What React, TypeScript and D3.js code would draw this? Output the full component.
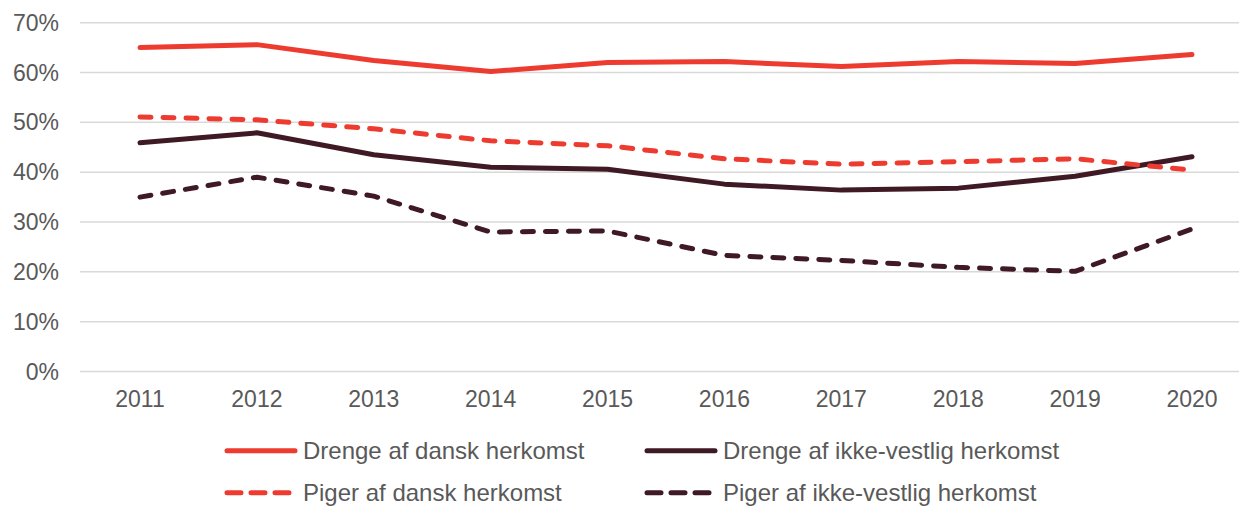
import React from "react";
import * as d3 from "d3";

const years = ["2011", "2012", "2013", "2014", "2015", "2016", "2017", "2018", "2019", "2020"];
const drengeDansk = [65.0, 65.6, 62.4, 60.2, 62.0, 62.2, 61.2, 62.2, 61.8, 63.6];
const pigerDansk = [51.1, 50.5, 48.7, 46.3, 45.3, 42.7, 41.6, 42.1, 42.7, 40.4];
const drengeIkkeVestlig = [45.9, 47.9, 43.5, 41.0, 40.6, 37.6, 36.4, 36.8, 39.2, 43.1];
const pigerIkkeVestlig = [35.0, 39.0, 35.2, 28.0, 28.2, 23.3, 22.3, 20.9, 20.1, 28.6];
const yTicks = [0, 10, 20, 30, 40, 50, 60, 70];

const RED = "#ee3b2f";
const DARK = "#3f1a25";
const TEXT = "#595959";

const series = [
  { name: "Drenge af dansk herkomst", values: drengeDansk, color: RED, dashed: false },
  { name: "Drenge af ikke-vestlig herkomst", values: drengeIkkeVestlig, color: DARK, dashed: false },
  { name: "Piger af dansk herkomst", values: pigerDansk, color: RED, dashed: true },
  { name: "Piger af ikke-vestlig herkomst", values: pigerIkkeVestlig, color: DARK, dashed: true },
];

const width = 1239, height = 506;
const font = "'Liberation Sans', Arial, sans-serif";

export default function App() {
  const x = d3.scalePoint<string>().domain(years).range([140, 1192]);
  const y = d3.scaleLinear().domain([0, 70]).range([371.5, 22.7]);
  const line = d3.line<number>()
    .x((_, i) => x(years[i]) as number)
    .y(d => y(d));

  return (
    <div style={{ position: "absolute", left: 0, top: 0 }}>
      <svg width={width} height={height} style={{ display: "block", fontFamily: font }}>
        <rect width={width} height={height} fill="#fff" />
        {yTicks.map(t => (
          <g key={t}>
            <line x1={80} x2={1256} y1={y(t)} y2={y(t)} stroke="#d9d9d9" strokeWidth={1.5} />
            <text x={59} y={y(t)} dy="0.35em" textAnchor="end" fontSize={23} fill={TEXT}>{t}%</text>
          </g>
        ))}
        {years.map(yr => (
          <text key={yr} x={x(yr)} y={407} textAnchor="middle" fontSize={23} fill={TEXT}>{yr}</text>
        ))}
        {series.map(s => (
          <path key={s.name} d={line(s.values) ?? ""} fill="none" stroke={s.color} strokeWidth={5}
            strokeLinecap="round" strokeLinejoin="round" strokeDasharray={s.dashed ? "11 12" : undefined} />
        ))}
        {series.map((s, i) => {
          const lx = i % 2 === 0 ? 227 : 647;
          const ly = i < 2 ? 450.7 : 492.7;
          return (
            <g key={s.name}>
              <line x1={lx} x2={lx + 68} y1={ly} y2={ly} stroke={s.color} strokeWidth={5}
                strokeLinecap="round" strokeDasharray={s.dashed ? "14 10" : undefined} />
              <text x={lx + 76} y={ly} dy="0.35em" fontSize={24} fill={TEXT}>{s.name}</text>
            </g>
          );
        })}
      </svg>
    </div>
  );
}
